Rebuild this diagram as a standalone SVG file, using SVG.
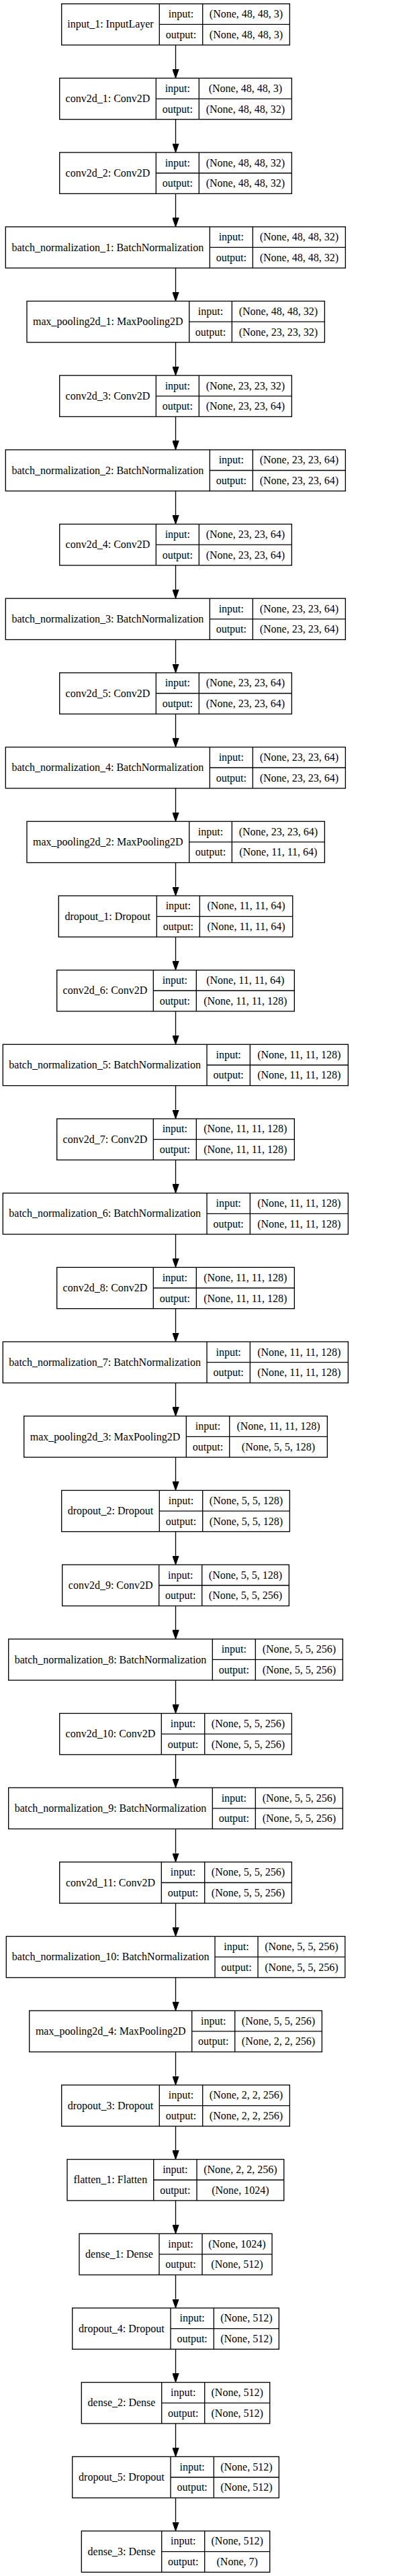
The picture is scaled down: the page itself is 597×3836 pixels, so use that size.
<svg xmlns="http://www.w3.org/2000/svg" width="597" height="3836" viewBox="0 0 597 3836">
<style>
.b{fill:none;stroke:#000;stroke-width:1.33}
.e{fill:none;stroke:#000;stroke-width:1.33}
.t{font-family:"Liberation Serif","Times New Roman",serif;font-size:16px;text-anchor:middle;fill:#000}
</style>
<defs>
<marker id="ah" viewBox="0 -5 14 10" markerWidth="14" markerHeight="10" refX="0" refY="0" markerUnits="userSpaceOnUse" orient="auto">
<path d="M0,-4.67L13.33,0L0,4.67Z" fill="#000" stroke="#000" stroke-width="1"/>
</marker>
</defs>
<rect x="0" y="0" width="597" height="3836" fill="#fff"/>
<g id="connectors">
<path class="e" marker-end="url(#ah)" d="M261.5,67.03V103.06"/>
<path class="e" marker-end="url(#ah)" d="M261.5,177.72V213.74"/>
<path class="e" marker-end="url(#ah)" d="M261.5,288.40V324.43"/>
<path class="e" marker-end="url(#ah)" d="M261.5,399.09V435.11"/>
<path class="e" marker-end="url(#ah)" d="M261.5,509.77V545.80"/>
<path class="e" marker-end="url(#ah)" d="M261.5,620.46V656.48"/>
<path class="e" marker-end="url(#ah)" d="M261.5,731.14V767.17"/>
<path class="e" marker-end="url(#ah)" d="M261.5,841.83V877.85"/>
<path class="e" marker-end="url(#ah)" d="M261.5,952.51V988.54"/>
<path class="e" marker-end="url(#ah)" d="M261.5,1063.20V1099.22"/>
<path class="e" marker-end="url(#ah)" d="M261.5,1173.88V1209.91"/>
<path class="e" marker-end="url(#ah)" d="M261.5,1284.57V1320.59"/>
<path class="e" marker-end="url(#ah)" d="M261.5,1395.25V1431.28"/>
<path class="e" marker-end="url(#ah)" d="M261.5,1505.94V1541.96"/>
<path class="e" marker-end="url(#ah)" d="M261.5,1616.62V1652.65"/>
<path class="e" marker-end="url(#ah)" d="M261.5,1727.31V1763.33"/>
<path class="e" marker-end="url(#ah)" d="M261.5,1837.99V1874.02"/>
<path class="e" marker-end="url(#ah)" d="M261.5,1948.68V1984.70"/>
<path class="e" marker-end="url(#ah)" d="M261.5,2059.36V2095.39"/>
<path class="e" marker-end="url(#ah)" d="M261.5,2170.05V2206.07"/>
<path class="e" marker-end="url(#ah)" d="M261.5,2280.73V2316.76"/>
<path class="e" marker-end="url(#ah)" d="M261.5,2391.42V2427.44"/>
<path class="e" marker-end="url(#ah)" d="M261.5,2502.10V2538.13"/>
<path class="e" marker-end="url(#ah)" d="M261.5,2612.79V2648.81"/>
<path class="e" marker-end="url(#ah)" d="M261.5,2723.47V2759.50"/>
<path class="e" marker-end="url(#ah)" d="M261.5,2834.16V2870.18"/>
<path class="e" marker-end="url(#ah)" d="M261.5,2944.84V2980.87"/>
<path class="e" marker-end="url(#ah)" d="M261.5,3055.53V3091.55"/>
<path class="e" marker-end="url(#ah)" d="M261.5,3166.21V3202.24"/>
<path class="e" marker-end="url(#ah)" d="M261.5,3276.90V3312.92"/>
<path class="e" marker-end="url(#ah)" d="M261.5,3387.58V3423.61"/>
<path class="e" marker-end="url(#ah)" d="M261.5,3498.27V3534.29"/>
<path class="e" marker-end="url(#ah)" d="M261.5,3608.95V3644.98"/>
<path class="e" marker-end="url(#ah)" d="M261.5,3719.64V3755.66"/>
</g>

<g id="input_1" transform="translate(0,5.7)">
<rect class="b" x="91.7" y="0" width="339.6" height="61.33"/>
<path class="b" d="M237.3,0V61.33M301.7,0V61.33M237.3,30.67H431.3"/>
<text class="t" x="164.5" y="35.8">input_1: InputLayer</text>
<text class="t" x="269.5" y="20.5">input:</text><text class="t" x="269.5" y="51.2">output:</text>
<text class="t" x="366.5" y="20.5">(None, 48, 48, 3)</text><text class="t" x="366.5" y="51.2">(None, 48, 48, 3)</text>
</g>

<g id="conv2d_1" transform="translate(0,116.39)">
<rect class="b" x="88.7" y="0" width="345.6" height="61.33"/>
<path class="b" d="M232.3,0V61.33M296.3,0V61.33M232.3,30.67H434.3"/>
<text class="t" x="160.5" y="35.8">conv2d_1: Conv2D</text>
<text class="t" x="264.3" y="20.5">input:</text><text class="t" x="264.3" y="51.2">output:</text>
<text class="t" x="365.3" y="20.5">(None, 48, 48, 3)</text><text class="t" x="365.3" y="51.2">(None, 48, 48, 32)</text>
</g>

<g id="conv2d_2" transform="translate(0,227.07)">
<rect class="b" x="88.7" y="0" width="345.6" height="61.33"/>
<path class="b" d="M232.3,0V61.33M296.3,0V61.33M232.3,30.67H434.3"/>
<text class="t" x="160.5" y="35.8">conv2d_2: Conv2D</text>
<text class="t" x="264.3" y="20.5">input:</text><text class="t" x="264.3" y="51.2">output:</text>
<text class="t" x="365.3" y="20.5">(None, 48, 48, 32)</text><text class="t" x="365.3" y="51.2">(None, 48, 48, 32)</text>
</g>

<g id="batch_normalization_1" transform="translate(0,337.76)">
<rect class="b" x="8.3" y="0" width="506" height="61.33"/>
<path class="b" d="M312.3,0V61.33M376.3,0V61.33M312.3,30.67H514.3"/>
<text class="t" x="160.3" y="35.8">batch_normalization_1: BatchNormalization</text>
<text class="t" x="344.3" y="20.5">input:</text><text class="t" x="344.3" y="51.2">output:</text>
<text class="t" x="445.3" y="20.5">(None, 48, 48, 32)</text><text class="t" x="445.3" y="51.2">(None, 48, 48, 32)</text>
</g>

<g id="max_pooling2d_1" transform="translate(0,448.44)">
<rect class="b" x="40" y="0" width="443.3" height="61.33"/>
<path class="b" d="M281.7,0V61.33M345.3,0V61.33M281.7,30.67H483.3"/>
<text class="t" x="160.85" y="35.8">max_pooling2d_1: MaxPooling2D</text>
<text class="t" x="313.5" y="20.5">input:</text><text class="t" x="313.5" y="51.2">output:</text>
<text class="t" x="414.3" y="20.5">(None, 48, 48, 32)</text><text class="t" x="414.3" y="51.2">(None, 23, 23, 32)</text>
</g>

<g id="conv2d_3" transform="translate(0,559.13)">
<rect class="b" x="88.7" y="0" width="345.6" height="61.33"/>
<path class="b" d="M232.3,0V61.33M296.3,0V61.33M232.3,30.67H434.3"/>
<text class="t" x="160.5" y="35.8">conv2d_3: Conv2D</text>
<text class="t" x="264.3" y="20.5">input:</text><text class="t" x="264.3" y="51.2">output:</text>
<text class="t" x="365.3" y="20.5">(None, 23, 23, 32)</text><text class="t" x="365.3" y="51.2">(None, 23, 23, 64)</text>
</g>

<g id="batch_normalization_2" transform="translate(0,669.81)">
<rect class="b" x="8.3" y="0" width="506" height="61.33"/>
<path class="b" d="M312.3,0V61.33M376.3,0V61.33M312.3,30.67H514.3"/>
<text class="t" x="160.3" y="35.8">batch_normalization_2: BatchNormalization</text>
<text class="t" x="344.3" y="20.5">input:</text><text class="t" x="344.3" y="51.2">output:</text>
<text class="t" x="445.3" y="20.5">(None, 23, 23, 64)</text><text class="t" x="445.3" y="51.2">(None, 23, 23, 64)</text>
</g>

<g id="conv2d_4" transform="translate(0,780.50)">
<rect class="b" x="88.7" y="0" width="345.6" height="61.33"/>
<path class="b" d="M232.3,0V61.33M296.3,0V61.33M232.3,30.67H434.3"/>
<text class="t" x="160.5" y="35.8">conv2d_4: Conv2D</text>
<text class="t" x="264.3" y="20.5">input:</text><text class="t" x="264.3" y="51.2">output:</text>
<text class="t" x="365.3" y="20.5">(None, 23, 23, 64)</text><text class="t" x="365.3" y="51.2">(None, 23, 23, 64)</text>
</g>

<g id="batch_normalization_3" transform="translate(0,891.18)">
<rect class="b" x="8.3" y="0" width="506" height="61.33"/>
<path class="b" d="M312.3,0V61.33M376.3,0V61.33M312.3,30.67H514.3"/>
<text class="t" x="160.3" y="35.8">batch_normalization_3: BatchNormalization</text>
<text class="t" x="344.3" y="20.5">input:</text><text class="t" x="344.3" y="51.2">output:</text>
<text class="t" x="445.3" y="20.5">(None, 23, 23, 64)</text><text class="t" x="445.3" y="51.2">(None, 23, 23, 64)</text>
</g>

<g id="conv2d_5" transform="translate(0,1001.87)">
<rect class="b" x="88.7" y="0" width="345.6" height="61.33"/>
<path class="b" d="M232.3,0V61.33M296.3,0V61.33M232.3,30.67H434.3"/>
<text class="t" x="160.5" y="35.8">conv2d_5: Conv2D</text>
<text class="t" x="264.3" y="20.5">input:</text><text class="t" x="264.3" y="51.2">output:</text>
<text class="t" x="365.3" y="20.5">(None, 23, 23, 64)</text><text class="t" x="365.3" y="51.2">(None, 23, 23, 64)</text>
</g>

<g id="batch_normalization_4" transform="translate(0,1112.55)">
<rect class="b" x="8.3" y="0" width="506" height="61.33"/>
<path class="b" d="M312.3,0V61.33M376.3,0V61.33M312.3,30.67H514.3"/>
<text class="t" x="160.3" y="35.8">batch_normalization_4: BatchNormalization</text>
<text class="t" x="344.3" y="20.5">input:</text><text class="t" x="344.3" y="51.2">output:</text>
<text class="t" x="445.3" y="20.5">(None, 23, 23, 64)</text><text class="t" x="445.3" y="51.2">(None, 23, 23, 64)</text>
</g>

<g id="max_pooling2d_2" transform="translate(0,1223.24)">
<rect class="b" x="40" y="0" width="443.3" height="61.33"/>
<path class="b" d="M281.7,0V61.33M345.3,0V61.33M281.7,30.67H483.3"/>
<text class="t" x="160.85" y="35.8">max_pooling2d_2: MaxPooling2D</text>
<text class="t" x="313.5" y="20.5">input:</text><text class="t" x="313.5" y="51.2">output:</text>
<text class="t" x="414.3" y="20.5">(None, 23, 23, 64)</text><text class="t" x="414.3" y="51.2">(None, 11, 11, 64)</text>
</g>

<g id="dropout_1" transform="translate(0,1333.92)">
<rect class="b" x="87.3" y="0" width="348.4" height="61.33"/>
<path class="b" d="M233.3,0V61.33M297.3,0V61.33M233.3,30.67H435.7"/>
<text class="t" x="160.3" y="35.8">dropout_1: Dropout</text>
<text class="t" x="265.3" y="20.5">input:</text><text class="t" x="265.3" y="51.2">output:</text>
<text class="t" x="366.5" y="20.5">(None, 11, 11, 64)</text><text class="t" x="366.5" y="51.2">(None, 11, 11, 64)</text>
</g>

<g id="conv2d_6" transform="translate(0,1444.61)">
<rect class="b" x="84.7" y="0" width="353.6" height="61.33"/>
<path class="b" d="M228.3,0V61.33M292.3,0V61.33M228.3,30.67H438.3"/>
<text class="t" x="156.5" y="35.8">conv2d_6: Conv2D</text>
<text class="t" x="260.3" y="20.5">input:</text><text class="t" x="260.3" y="51.2">output:</text>
<text class="t" x="365.3" y="20.5">(None, 11, 11, 64)</text><text class="t" x="365.3" y="51.2">(None, 11, 11, 128)</text>
</g>

<g id="batch_normalization_5" transform="translate(0,1555.29)">
<rect class="b" x="4.3" y="0" width="514" height="61.33"/>
<path class="b" d="M308,0V61.33M372.3,0V61.33M308,30.67H518.3"/>
<text class="t" x="156.15" y="35.8">batch_normalization_5: BatchNormalization</text>
<text class="t" x="340.15" y="20.5">input:</text><text class="t" x="340.15" y="51.2">output:</text>
<text class="t" x="445.3" y="20.5">(None, 11, 11, 128)</text><text class="t" x="445.3" y="51.2">(None, 11, 11, 128)</text>
</g>

<g id="conv2d_7" transform="translate(0,1665.98)">
<rect class="b" x="84.7" y="0" width="353.6" height="61.33"/>
<path class="b" d="M228.3,0V61.33M292.3,0V61.33M228.3,30.67H438.3"/>
<text class="t" x="156.5" y="35.8">conv2d_7: Conv2D</text>
<text class="t" x="260.3" y="20.5">input:</text><text class="t" x="260.3" y="51.2">output:</text>
<text class="t" x="365.3" y="20.5">(None, 11, 11, 128)</text><text class="t" x="365.3" y="51.2">(None, 11, 11, 128)</text>
</g>

<g id="batch_normalization_6" transform="translate(0,1776.66)">
<rect class="b" x="4.3" y="0" width="514" height="61.33"/>
<path class="b" d="M308,0V61.33M372.3,0V61.33M308,30.67H518.3"/>
<text class="t" x="156.15" y="35.8">batch_normalization_6: BatchNormalization</text>
<text class="t" x="340.15" y="20.5">input:</text><text class="t" x="340.15" y="51.2">output:</text>
<text class="t" x="445.3" y="20.5">(None, 11, 11, 128)</text><text class="t" x="445.3" y="51.2">(None, 11, 11, 128)</text>
</g>

<g id="conv2d_8" transform="translate(0,1887.35)">
<rect class="b" x="84.7" y="0" width="353.6" height="61.33"/>
<path class="b" d="M228.3,0V61.33M292.3,0V61.33M228.3,30.67H438.3"/>
<text class="t" x="156.5" y="35.8">conv2d_8: Conv2D</text>
<text class="t" x="260.3" y="20.5">input:</text><text class="t" x="260.3" y="51.2">output:</text>
<text class="t" x="365.3" y="20.5">(None, 11, 11, 128)</text><text class="t" x="365.3" y="51.2">(None, 11, 11, 128)</text>
</g>

<g id="batch_normalization_7" transform="translate(0,1998.03)">
<rect class="b" x="4.3" y="0" width="514" height="61.33"/>
<path class="b" d="M308,0V61.33M372.3,0V61.33M308,30.67H518.3"/>
<text class="t" x="156.15" y="35.8">batch_normalization_7: BatchNormalization</text>
<text class="t" x="340.15" y="20.5">input:</text><text class="t" x="340.15" y="51.2">output:</text>
<text class="t" x="445.3" y="20.5">(None, 11, 11, 128)</text><text class="t" x="445.3" y="51.2">(None, 11, 11, 128)</text>
</g>

<g id="max_pooling2d_3" transform="translate(0,2108.72)">
<rect class="b" x="35.7" y="0" width="451.6" height="61.33"/>
<path class="b" d="M277.3,0V61.33M341.7,0V61.33M277.3,30.67H487.3"/>
<text class="t" x="156.5" y="35.8">max_pooling2d_3: MaxPooling2D</text>
<text class="t" x="309.5" y="20.5">input:</text><text class="t" x="309.5" y="51.2">output:</text>
<text class="t" x="414.5" y="20.5">(None, 11, 11, 128)</text><text class="t" x="414.5" y="51.2">(None, 5, 5, 128)</text>
</g>

<g id="dropout_2" transform="translate(0,2219.40)">
<rect class="b" x="91.7" y="0" width="339.6" height="61.33"/>
<path class="b" d="M237.3,0V61.33M301.7,0V61.33M237.3,30.67H431.3"/>
<text class="t" x="164.5" y="35.8">dropout_2: Dropout</text>
<text class="t" x="269.5" y="20.5">input:</text><text class="t" x="269.5" y="51.2">output:</text>
<text class="t" x="366.5" y="20.5">(None, 5, 5, 128)</text><text class="t" x="366.5" y="51.2">(None, 5, 5, 128)</text>
</g>

<g id="conv2d_9" transform="translate(0,2330.09)">
<rect class="b" x="92.7" y="0" width="337.6" height="61.33"/>
<path class="b" d="M236.7,0V61.33M300.7,0V61.33M236.7,30.67H430.3"/>
<text class="t" x="164.7" y="35.8">conv2d_9: Conv2D</text>
<text class="t" x="268.7" y="20.5">input:</text><text class="t" x="268.7" y="51.2">output:</text>
<text class="t" x="365.5" y="20.5">(None, 5, 5, 128)</text><text class="t" x="365.5" y="51.2">(None, 5, 5, 256)</text>
</g>

<g id="batch_normalization_8" transform="translate(0,2440.77)">
<rect class="b" x="12.7" y="0" width="497.6" height="61.33"/>
<path class="b" d="M316.3,0V61.33M380.3,0V61.33M316.3,30.67H510.3"/>
<text class="t" x="164.5" y="35.8">batch_normalization_8: BatchNormalization</text>
<text class="t" x="348.3" y="20.5">input:</text><text class="t" x="348.3" y="51.2">output:</text>
<text class="t" x="445.3" y="20.5">(None, 5, 5, 256)</text><text class="t" x="445.3" y="51.2">(None, 5, 5, 256)</text>
</g>

<g id="conv2d_10" transform="translate(0,2551.46)">
<rect class="b" x="88.7" y="0" width="345.6" height="61.33"/>
<path class="b" d="M240.3,0V61.33M304.7,0V61.33M240.3,30.67H434.3"/>
<text class="t" x="164.5" y="35.8">conv2d_10: Conv2D</text>
<text class="t" x="272.5" y="20.5">input:</text><text class="t" x="272.5" y="51.2">output:</text>
<text class="t" x="369.5" y="20.5">(None, 5, 5, 256)</text><text class="t" x="369.5" y="51.2">(None, 5, 5, 256)</text>
</g>

<g id="batch_normalization_9" transform="translate(0,2662.14)">
<rect class="b" x="12.7" y="0" width="497.6" height="61.33"/>
<path class="b" d="M316.3,0V61.33M380.3,0V61.33M316.3,30.67H510.3"/>
<text class="t" x="164.5" y="35.8">batch_normalization_9: BatchNormalization</text>
<text class="t" x="348.3" y="20.5">input:</text><text class="t" x="348.3" y="51.2">output:</text>
<text class="t" x="445.3" y="20.5">(None, 5, 5, 256)</text><text class="t" x="445.3" y="51.2">(None, 5, 5, 256)</text>
</g>

<g id="conv2d_11" transform="translate(0,2772.83)">
<rect class="b" x="88.7" y="0" width="345.6" height="61.33"/>
<path class="b" d="M240.3,0V61.33M304.7,0V61.33M240.3,30.67H434.3"/>
<text class="t" x="164.5" y="35.8">conv2d_11: Conv2D</text>
<text class="t" x="272.5" y="20.5">input:</text><text class="t" x="272.5" y="51.2">output:</text>
<text class="t" x="369.5" y="20.5">(None, 5, 5, 256)</text><text class="t" x="369.5" y="51.2">(None, 5, 5, 256)</text>
</g>

<g id="batch_normalization_10" transform="translate(0,2883.51)">
<rect class="b" x="9.3" y="0" width="504.4" height="61.33"/>
<path class="b" d="M320,0V61.33M384,0V61.33M320,30.67H513.7"/>
<text class="t" x="164.65" y="35.8">batch_normalization_10: BatchNormalization</text>
<text class="t" x="352" y="20.5">input:</text><text class="t" x="352" y="51.2">output:</text>
<text class="t" x="448.85" y="20.5">(None, 5, 5, 256)</text><text class="t" x="448.85" y="51.2">(None, 5, 5, 256)</text>
</g>

<g id="max_pooling2d_4" transform="translate(0,2994.20)">
<rect class="b" x="43.7" y="0" width="435.6" height="61.33"/>
<path class="b" d="M285.7,0V61.33M349.7,0V61.33M285.7,30.67H479.3"/>
<text class="t" x="164.7" y="35.8">max_pooling2d_4: MaxPooling2D</text>
<text class="t" x="317.7" y="20.5">input:</text><text class="t" x="317.7" y="51.2">output:</text>
<text class="t" x="414.5" y="20.5">(None, 5, 5, 256)</text><text class="t" x="414.5" y="51.2">(None, 2, 2, 256)</text>
</g>

<g id="dropout_3" transform="translate(0,3104.88)">
<rect class="b" x="91.7" y="0" width="339.6" height="61.33"/>
<path class="b" d="M237.3,0V61.33M301.7,0V61.33M237.3,30.67H431.3"/>
<text class="t" x="164.5" y="35.8">dropout_3: Dropout</text>
<text class="t" x="269.5" y="20.5">input:</text><text class="t" x="269.5" y="51.2">output:</text>
<text class="t" x="366.5" y="20.5">(None, 2, 2, 256)</text><text class="t" x="366.5" y="51.2">(None, 2, 2, 256)</text>
</g>

<g id="flatten_1" transform="translate(0,3215.57)">
<rect class="b" x="100" y="0" width="322.7" height="61.33"/>
<path class="b" d="M228.7,0V61.33M293,0V61.33M228.7,30.67H422.7"/>
<text class="t" x="164.35" y="35.8">flatten_1: Flatten</text>
<text class="t" x="260.85" y="20.5">input:</text><text class="t" x="260.85" y="51.2">output:</text>
<text class="t" x="357.85" y="20.5">(None, 2, 2, 256)</text><text class="t" x="357.85" y="51.2">(None, 1024)</text>
</g>

<g id="dense_1" transform="translate(0,3326.25)">
<rect class="b" x="118" y="0" width="287" height="61.33"/>
<path class="b" d="M237,0V61.33M301,0V61.33M237,30.67H405"/>
<text class="t" x="177.5" y="35.8">dense_1: Dense</text>
<text class="t" x="269" y="20.5">input:</text><text class="t" x="269" y="51.2">output:</text>
<text class="t" x="353" y="20.5">(None, 1024)</text><text class="t" x="353" y="51.2">(None, 512)</text>
</g>

<g id="dropout_4" transform="translate(0,3436.94)">
<rect class="b" x="107.7" y="0" width="307.6" height="61.33"/>
<path class="b" d="M254,0V61.33M318.3,0V61.33M254,30.67H415.3"/>
<text class="t" x="180.85" y="35.8">dropout_4: Dropout</text>
<text class="t" x="286.15" y="20.5">input:</text><text class="t" x="286.15" y="51.2">output:</text>
<text class="t" x="366.8" y="20.5">(None, 512)</text><text class="t" x="366.8" y="51.2">(None, 512)</text>
</g>

<g id="dense_2" transform="translate(0,3547.62)">
<rect class="b" x="121.3" y="0" width="280.4" height="61.33"/>
<path class="b" d="M240.7,0V61.33M304.7,0V61.33M240.7,30.67H401.7"/>
<text class="t" x="181" y="35.8">dense_2: Dense</text>
<text class="t" x="272.7" y="20.5">input:</text><text class="t" x="272.7" y="51.2">output:</text>
<text class="t" x="353.2" y="20.5">(None, 512)</text><text class="t" x="353.2" y="51.2">(None, 512)</text>
</g>

<g id="dropout_5" transform="translate(0,3658.31)">
<rect class="b" x="107.7" y="0" width="307.6" height="61.33"/>
<path class="b" d="M254,0V61.33M318.3,0V61.33M254,30.67H415.3"/>
<text class="t" x="180.85" y="35.8">dropout_5: Dropout</text>
<text class="t" x="286.15" y="20.5">input:</text><text class="t" x="286.15" y="51.2">output:</text>
<text class="t" x="366.8" y="20.5">(None, 512)</text><text class="t" x="366.8" y="51.2">(None, 512)</text>
</g>

<g id="dense_3" transform="translate(0,3768.99)">
<rect class="b" x="121.3" y="0" width="280.4" height="61.33"/>
<path class="b" d="M240.7,0V61.33M304.7,0V61.33M240.7,30.67H401.7"/>
<text class="t" x="181" y="35.8">dense_3: Dense</text>
<text class="t" x="272.7" y="20.5">input:</text><text class="t" x="272.7" y="51.2">output:</text>
<text class="t" x="353.2" y="20.5">(None, 512)</text><text class="t" x="353.2" y="51.2">(None, 7)</text>
</g>
</svg>
